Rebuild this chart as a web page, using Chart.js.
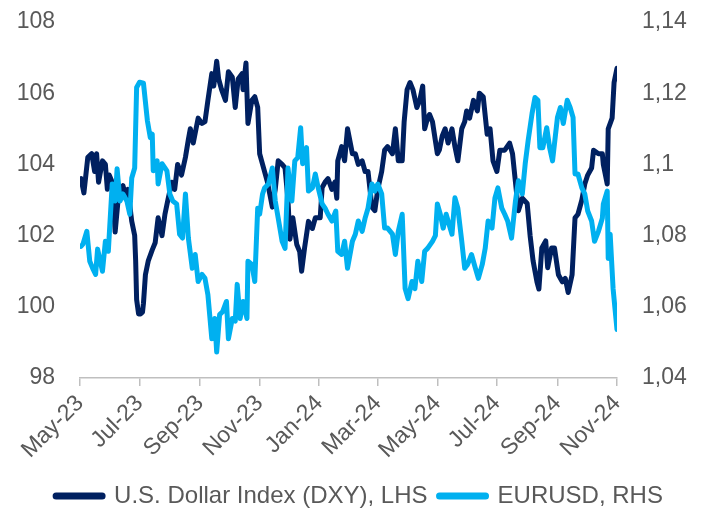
<!DOCTYPE html>
<html><head><meta charset="utf-8">
<script src="https://cdn.jsdelivr.net/npm/chart.js@4.4.1/dist/chart.umd.min.js"></script>
<style>html,body{margin:0;padding:0;background:#fff;}</style>
</head><body>
<canvas id="c" width="705" height="518"></canvas>
<script>
// ---- data ----
const xTickDays = [0, 61, 123, 184, 245, 305, 366, 427, 489, 550]; // days since 15 May 2023
const xTickLabels = ['May-23','Jul-23','Sep-23','Nov-23','Jan-24','Mar-24','May-24','Jul-24','Sep-24','Nov-24'];
const leftTicks = [98, 100, 102, 104, 106, 108];
const rightTicks = [1.04, 1.06, 1.08, 1.10, 1.12, 1.14];
const rightTickLabels = ['1,04','1,06','1,08','1,1','1,12','1,14'];
const seriesNames = ['U.S. Dollar Index (DXY), LHS', 'EURUSD, RHS'];

const dxyDays = [1,4,8,12,15,17,19,23,26,28,30,33,36,39,41,44,46,49,53,56,57,58,60,62,64,65,67,70,74,77,80,84,87,90,94,97,100,104,108,111,113,116,121,125,128,131,135,137,140,142,145,149,152,156,159,162,166,167,170,172,176,179,182,184,187,192,197,200,203,207,210,213,215,218,222,225,227,230,234,238,241,246,248,251,254,258,261,263,264,268,271,274,279,282,285,289,292,295,299,302,305,309,312,315,320,323,326,330,332,335,338,341,345,348,351,353,356,358,361,366,368,371,374,377,381,384,387,391,394,396,399,403,407,409,413,417,420,423,427,430,435,440,443,449,453,458,461,464,468,470,473,477,479,483,486,490,494,497,500,504,507,510,514,517,520,524,526,531,535,536,540,541,545,547,550];
const dxyValues = [103.6,103.2,104.2,104.3,103.8,104.3,103.5,104.1,104.0,103.3,103.7,103.5,102.1,103.0,103.3,103.4,103.2,103.3,102.4,102.0,101.3,100.2,99.8,99.8,99.85,100.1,100.9,101.3,101.6,101.8,102.5,102.0,102.6,103.0,103.5,103.3,104.0,103.7,104.2,104.7,105.0,104.6,105.3,105.15,105.2,105.8,106.55,106.2,106.9,106.4,106.1,105.8,106.6,106.45,105.6,106.4,106.55,106.1,106.85,105.15,105.8,105.9,105.6,104.3,104.0,103.5,102.8,103.3,104.1,104.0,103.9,103.0,101.9,102.5,101.75,101.55,101.0,101.65,102.4,102.2,102.5,102.5,103.35,103.5,103.6,103.3,103.5,103.05,104.1,104.5,104.1,105.0,104.3,104.3,104.0,104.1,103.8,103.8,102.8,102.7,103.3,103.8,104.4,104.5,104.3,105.0,104.1,104.1,105.2,106.1,106.3,106.1,105.6,105.8,106.2,105.0,105.3,105.4,105.2,104.3,104.4,104.8,105.0,104.6,105.0,104.5,104.1,105.0,105.2,105.5,105.3,105.8,105.5,106.0,105.9,104.85,105.0,104.1,103.8,104.4,104.4,104.6,104.3,102.7,103.05,102.9,102.0,101.3,100.7,100.5,101.65,101.85,101.1,101.65,101.65,100.9,100.7,100.8,100.4,100.9,102.5,102.6,103.0,103.45,103.7,103.9,104.4,104.3,104.3,104.0,103.45,105.0,105.3,106.3,106.7];

const eurDays = [1,3,7,10,13,16,18,23,26,29,33,36,38,41,44,48,51,53,56,58,61,65,69,72,74,75,79,80,84,87,89,92,95,99,102,105,108,111,115,118,121,125,128,131,135,138,140,143,146,150,152,156,159,161,164,167,171,172,176,179,182,184,187,189,193,197,200,203,207,210,212,213,217,220,223,226,228,232,234,238,241,244,248,251,254,258,262,264,268,271,274,279,282,285,289,292,295,299,302,305,309,312,315,320,323,326,330,333,336,340,343,346,350,353,356,361,364,366,369,372,375,377,381,384,387,391,394,397,401,405,408,412,415,418,422,425,428,432,435,438,442,446,449,453,456,459,463,466,469,471,474,478,481,484,489,492,495,499,502,505,507,510,514,517,520,524,527,531,535,536,540,541,543,546,550];
const eurValues = [1.0770,1.0776,1.0812,1.0728,1.0708,1.0691,1.0762,1.0700,1.0784,1.0756,1.0945,1.0897,1.0988,1.0897,1.0917,1.0897,1.0860,1.0962,1.0990,1.1216,1.1231,1.1228,1.1123,1.1075,1.1085,1.0982,1.1010,1.0945,1.1002,1.0990,1.0982,1.0917,1.0897,1.0889,1.0804,1.0793,1.0917,1.0793,1.0708,1.0747,1.0671,1.0691,1.0680,1.0634,1.0510,1.0567,1.0473,1.0578,1.0586,1.0615,1.0510,1.0567,1.0560,1.0663,1.0567,1.0615,1.0567,1.0728,1.0719,1.0671,1.0877,1.0860,1.0917,1.0934,1.0945,1.0990,1.0897,1.0849,1.0784,1.0764,1.0906,1.0990,1.0897,1.1010,1.1019,1.1103,1.1002,1.1047,1.0925,1.0934,1.0973,1.0934,1.0889,1.0877,1.0860,1.0841,1.0869,1.0756,1.0747,1.0784,1.0708,1.0784,1.0804,1.0841,1.0812,1.0849,1.0877,1.0945,1.0925,1.0945,1.0917,1.0821,1.0821,1.0804,1.0747,1.0812,1.0860,1.0651,1.0623,1.0671,1.0651,1.0728,1.0671,1.0756,1.0764,1.0784,1.0800,1.0889,1.0860,1.0821,1.0860,1.0841,1.0804,1.0906,1.0877,1.0784,1.0708,1.0719,1.0747,1.0708,1.0680,1.0719,1.0764,1.0841,1.0821,1.0906,1.0934,1.0877,1.0860,1.0841,1.0793,1.0897,1.0954,1.0917,1.1002,1.1067,1.1143,1.1188,1.1180,1.1047,1.1047,1.1103,1.1047,1.1010,1.1132,1.1160,1.1115,1.1180,1.1160,1.1132,1.0973,1.0973,1.0934,1.0917,1.0869,1.0841,1.0784,1.0812,1.0849,1.0889,1.0925,1.0736,1.0804,1.0651,1.0536];

// ---- chart ----
const FONT = "'Liberation Sans', Arial, sans-serif";
const TXT = '#595959';
Chart.defaults.font.family = FONT;
Chart.defaults.font.size = 23;
Chart.defaults.color = TXT;

const toPts = (xs, ys) => xs.map((d, i) => ({x: d, y: ys[i]}));
const hiddenTicks = { display: true, drawOnChartArea: false, drawTicks: true, tickLength: 25, color: 'rgba(0,0,0,0)' };

new Chart(document.getElementById('c'), {
  type: 'line',
  data: {
    datasets: [
      { label: seriesNames[0], data: toPts(dxyDays, dxyValues), yAxisID: 'yL', order: 1,
        borderColor: '#002060', backgroundColor: '#002060', borderWidth: 5,
        pointRadius: 0, tension: 0, borderJoinStyle: 'round', borderCapStyle: 'round' },
      { label: seriesNames[1], data: toPts(eurDays, eurValues), yAxisID: 'yR', order: 0,
        borderColor: '#00B0F0', backgroundColor: '#00B0F0', borderWidth: 5,
        pointRadius: 0, tension: 0, borderJoinStyle: 'round', borderCapStyle: 'round' }
    ]
  },
  options: {
    responsive: false,
    animation: false,
    devicePixelRatio: 1,
    layout: { padding: { top: 22, bottom: 0, left: 14, right: 0 } },
    plugins: {
      tooltip: { enabled: false },
      legend: {
        position: 'bottom',
        labels: {
          usePointStyle: true,
          pointStyle: 'line',
          pointStyleWidth: 46,
          padding: 12,
          color: TXT,
          font: { size: 24, family: FONT },
          sort: (a, b) => a.datasetIndex - b.datasetIndex,
          generateLabels: (chart) => {
            const items = Chart.defaults.plugins.legend.labels.generateLabels(chart);
            items.forEach(it => { it.lineWidth = 7; it.lineCap = 'round'; it.pointStyle = 'line'; });
            return items;
          }
        }
      }
    },
    scales: {
      x: {
        type: 'linear', position: 'bottom', min: 0, max: 550,
        afterBuildTicks: s => { s.ticks = xTickDays.map(v => ({ value: v })); },
        afterFit: s => { s.height = 94; },
        ticks: { autoSkip: false, minRotation: 45, maxRotation: 45, padding: 4, color: TXT,
                 font: { size: 23, family: FONT },
                 callback: v => xTickLabels[xTickDays.indexOf(v)] },
        grid: { display: true, drawOnChartArea: false, drawTicks: true, tickLength: 8, color: '#BFBFBF', lineWidth: 1.5 },
        border: { display: true, color: '#BFBFBF', width: 1.5 }
      },
      yL: {
        type: 'linear', position: 'left', min: 98, max: 108,
        afterBuildTicks: s => { s.ticks = leftTicks.map(v => ({ value: v })); },
        afterFit: s => { s.width = 66; },
        ticks: { padding: 0, color: TXT, font: { size: 23, family: FONT }, callback: v => String(v) },
        grid: hiddenTicks, border: { display: false }
      },
      yR: {
        type: 'linear', position: 'right', min: 1.04, max: 1.14,
        afterBuildTicks: s => { s.ticks = rightTicks.map(v => ({ value: v })); },
        afterFit: s => { s.width = 88; },
        ticks: { padding: 0, color: TXT, font: { size: 23, family: FONT },
                 callback: (v, i) => rightTickLabels[i] },
        grid: hiddenTicks, border: { display: false }
      }
    }
  }
});
</script>
</body></html>
